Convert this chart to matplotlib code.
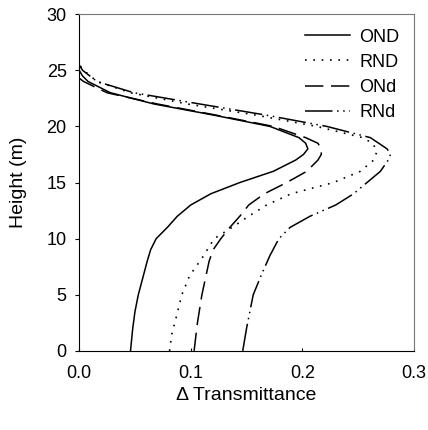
import matplotlib
matplotlib.use('Agg')
import matplotlib.pyplot as plt

plt.rcParams['font.family'] = ['Liberation Sans', 'DejaVu Sans']

# Values: height (m) vs delta transmittance
ond_h = [0, 2, 3.5, 5, 6.5, 8, 9, 10, 11, 12, 13, 14, 15, 16, 17, 17.5, 18,
         18.5, 19, 20, 21, 22, 23, 24, 24.5, 25]
ond_x = [0.046, 0.048, 0.050, 0.053, 0.057, 0.061, 0.064, 0.069, 0.079, 0.088,
         0.100, 0.118, 0.144, 0.174, 0.194, 0.201, 0.205, 0.203, 0.197, 0.171,
         0.121, 0.067, 0.028, 0.008, 0.003, 0.0]

rnd_h = [0, 1.5, 3, 5, 6.7, 8.4, 10, 11, 12, 13, 14, 15, 16, 17, 17.8, 18.5,
         19, 20, 21, 22, 23, 24, 25, 25.5]
rnd_x = [0.081, 0.083, 0.087, 0.092, 0.099, 0.111, 0.121, 0.137, 0.152, 0.168,
         0.190, 0.228, 0.252, 0.264, 0.267, 0.263, 0.254, 0.213, 0.159, 0.097,
         0.046, 0.016, 0.004, 0.0]

ondd_h = [0, 2.5, 5, 8, 9, 10, 11, 12, 13, 14, 15, 16, 17, 17.5, 18, 18.5, 19,
          20, 21, 22, 23, 24, 24.3]
ondd_x = [0.103, 0.106, 0.110, 0.1165, 0.120, 0.127, 0.135, 0.144, 0.152,
          0.166, 0.186, 0.204, 0.214, 0.217, 0.217, 0.214, 0.203, 0.174, 0.123,
          0.070, 0.025, 0.004, 0.0]

rndd_h = [0, 2, 5, 6.7, 8.5, 10, 11, 12, 13, 14, 15, 16, 17, 17.5, 18, 19, 20,
          21, 22, 23, 24, 25, 25.5]
rndd_x = [0.1466, 0.150, 0.156, 0.163, 0.171, 0.179, 0.189, 0.207, 0.230,
          0.246, 0.258, 0.270, 0.277, 0.279, 0.276, 0.261, 0.222, 0.168, 0.108,
          0.049, 0.016, 0.003, 0.0]

x_ticks = [0.0, 0.1, 0.2, 0.3]
y_ticks = [0, 5, 10, 15, 20, 25, 30]

fig = plt.figure(figsize=(4.28, 4.30), dpi=100)
ax = fig.add_axes([0.185, 0.184, 0.782, 0.783])

ax.plot(ond_x, ond_h, color='black', linewidth=1.1, linestyle='-', label='OND')
ax.plot(rnd_x, rnd_h, color='black', linewidth=1.2, linestyle=(0, (1, 4)),
        label='RND')
ax.plot(ondd_x, ondd_h, color='black', linewidth=1.1, linestyle=(0, (12, 5)),
        label='ONd')
ax.plot(rndd_x, rndd_h, color='black', linewidth=1.1,
        linestyle=(0, (18, 3, 1, 3, 1, 3)), label='RNd')

ax.set_xlim(0, 0.3)
ax.set_ylim(0, 30)
ax.set_xticks(x_ticks)
ax.set_xticklabels(['%.1f' % t for t in x_ticks])
ax.set_yticks(y_ticks)
ax.tick_params(axis='y', direction='out', length=3, labelsize=13, pad=6)
ax.tick_params(axis='x', direction='in', length=2, labelsize=13, pad=10)

ax.set_ylabel('Height (m)', fontsize=14, labelpad=14)
ax.set_xlabel('\u0394 Transmittance', fontsize=14, labelpad=4)

for side in ['top', 'right']:
    ax.spines[side].set_color('#777777')
    ax.spines[side].set_linewidth(0.8)

ax.legend(loc='upper right', frameon=False, fontsize=13, handlelength=2.5,
          handletextpad=0.5, labelspacing=0.45, borderaxespad=0.4)

fig.savefig('out.png', dpi=100)
